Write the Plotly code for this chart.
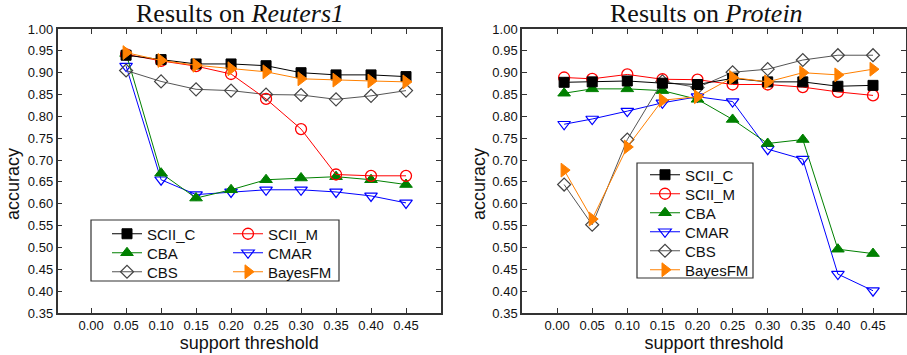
import plotly.graph_objects as go

# ---------------- data ----------------
x_reuters = [0.05, 0.10, 0.15, 0.20, 0.25, 0.30, 0.35, 0.40, 0.45]
x_protein = [0.01, 0.05, 0.10, 0.15, 0.20, 0.25, 0.30, 0.35, 0.40, 0.45]

reuters_scii_c = [0.940, 0.930, 0.920, 0.920, 0.916, 0.900, 0.895, 0.895, 0.891]
reuters_scii_m = [0.942, 0.927, 0.915, 0.897, 0.840, 0.771, 0.667, 0.664, 0.664]
reuters_cba = [0.944, 0.670, 0.613, 0.632, 0.655, 0.659, 0.662, 0.655, 0.644]
reuters_cmar = [0.915, 0.655, 0.621, 0.627, 0.632, 0.632, 0.627, 0.618, 0.602]
reuters_cbs = [0.905, 0.880, 0.862, 0.859, 0.850, 0.849, 0.839, 0.847, 0.859]
reuters_bayesfm = [0.946, 0.928, 0.917, 0.909, 0.902, 0.886, 0.883, 0.881, 0.879]

protein_scii_c = [0.878, 0.879, 0.881, 0.876, 0.873, 0.887, 0.879, 0.879, 0.869, 0.871]
protein_scii_m = [0.889, 0.886, 0.896, 0.885, 0.884, 0.873, 0.873, 0.867, 0.856, 0.848]
protein_cba = [0.853, 0.863, 0.863, 0.859, 0.839, 0.793, 0.738, 0.747, 0.496, 0.486]
protein_cmar = [0.782, 0.794, 0.812, 0.831, 0.845, 0.834, 0.725, 0.702, 0.439, 0.401]
protein_cbs = [0.644, 0.552, 0.747, 0.880, 0.866, 0.901, 0.908, 0.929, 0.940, 0.940]
protein_bayesfm = [0.677, 0.565, 0.730, 0.837, 0.845, 0.889, 0.879, 0.900, 0.895, 0.908]

x_tickvals = [0.00, 0.05, 0.10, 0.15, 0.20, 0.25, 0.30, 0.35, 0.40, 0.45]
x_ticktext = ["0.00", "0.05", "0.10", "0.15", "0.20", "0.25", "0.30", "0.35", "0.40", "0.45"]
y_tickvals = [0.35, 0.40, 0.45, 0.50, 0.55, 0.60, 0.65, 0.70, 0.75, 0.80, 0.85, 0.90, 0.95, 1.00]
y_ticktext = ["0.35", "0.40", "0.45", "0.50", "0.55", "0.60", "0.65", "0.70", "0.75", "0.80",
              "0.85", "0.90", "0.95", "1.00"]

series_names = ["SCII_C", "SCII_M", "CBA", "CMAR", "CBS", "BayesFM"]

# ---------------- styles ----------------
W, H = 907, 355
SANS = "Liberation Sans, Arial, sans-serif"
SERIF = "Liberation Serif, Times New Roman, serif"

styles = {
    "SCII_C": dict(line="#000000", marker=dict(symbol="square", size=10, color="#000000",
                                                line=dict(color="#000000", width=1))),
    "SCII_M": dict(line="#ff0000", marker=dict(symbol="circle-open", size=11, color="#ff0000",
                                                line=dict(color="#ff0000", width=1.3))),
    "CBA": dict(line="#008000", marker=dict(symbol="triangle-up", size=11, color="#008000",
                                             line=dict(color="#008000", width=1))),
    "CMAR": dict(line="#0000ff", marker=dict(symbol="triangle-down-open", size=11, color="#0000ff",
                                              line=dict(color="#0000ff", width=1.2))),
    "CBS": dict(line="#555555", marker=dict(symbol="diamond-open", size=10, color="#444444",
                                             line=dict(color="#444444", width=1.2))),
    "BayesFM": dict(line="#ff8000", marker=dict(symbol="triangle-right", size=12, color="#ff8000",
                                                 line=dict(color="#ff8000", width=1))),
}

reuters = {"SCII_C": reuters_scii_c, "SCII_M": reuters_scii_m, "CBA": reuters_cba,
           "CMAR": reuters_cmar, "CBS": reuters_cbs, "BayesFM": reuters_bayesfm}
protein = {"SCII_C": protein_scii_c, "SCII_M": protein_scii_m, "CBA": protein_cba,
           "CMAR": protein_cmar, "CBS": protein_cbs, "BayesFM": protein_bayesfm}


def px_x(p):
    return p / W


def px_y(p):
    return (H - p) / H


# legend entry positions (pixel: text left x, row centre y)
left_legend_pos = {"SCII_C": (147, 234), "SCII_M": (268, 234),
                   "CBA": (147, 253), "CMAR": (268, 253),
                   "CBS": (147, 272), "BayesFM": (268, 272)}
right_legend_pos = {"SCII_C": (685, 175), "SCII_M": (685, 194), "CBA": (685, 213),
                    "CMAR": (685, 232), "CBS": (685, 251), "BayesFM": (685, 270)}

legend_ids_left = {n: ("legend" if i == 0 else f"legend{i + 1}") for i, n in enumerate(series_names)}
legend_ids_right = {n: f"legend{i + 7}" for i, n in enumerate(series_names)}

fig = go.Figure()

# draw order so that orange/black markers sit on top like the reference
draw_order = ["CMAR", "CBA", "CBS", "SCII_M", "SCII_C", "BayesFM"]

for name in draw_order:
    st = styles[name]
    fig.add_trace(go.Scatter(
        x=x_reuters, y=reuters[name], name=name, mode="lines+markers",
        line=dict(color=st["line"], width=1), marker=st["marker"],
        xaxis="x", yaxis="y", legend=legend_ids_left[name], showlegend=True,
    ))
for name in draw_order:
    st = styles[name]
    fig.add_trace(go.Scatter(
        x=x_protein, y=protein[name], name=name, mode="lines+markers",
        line=dict(color=st["line"], width=1), marker=st["marker"],
        xaxis="x2", yaxis="y2", legend=legend_ids_right[name], showlegend=True,
    ))

axis_common = dict(
    showline=True, linecolor="#333333", linewidth=1.5, mirror="ticks",
    ticks="inside", ticklen=5, tickwidth=1.2, tickcolor="#333333",
    showgrid=False, zeroline=False,
    tickfont=dict(family=SANS, size=13, color="#111111"),
)

xtitle = dict(text="support threshold", standoff=2,
              font=dict(family=SANS, size=18, color="#111111"))

xdom1 = [px_x(57.5), px_x(441)]
xdom2 = [px_x(522), px_x(906)]
ydom = [px_y(313), px_y(29)]

legend_layouts = {}
for name in series_names:
    for ids, pos in ((legend_ids_left, left_legend_pos), (legend_ids_right, right_legend_pos)):
        lx, ly = pos[name]
        legend_layouts[ids[name]] = dict(
            x=px_x(lx - 40), y=px_y(ly), xanchor="left", yanchor="middle",
            bgcolor="rgba(0,0,0,0)", borderwidth=0, tracegroupgap=0,
            font=dict(family=SANS, size=15, color="#111111"))

fig.update_layout(
    width=W, height=H,
    margin=dict(l=0, r=0, t=0, b=0, autoexpand=False),
    paper_bgcolor="white", plot_bgcolor="white",
    xaxis=dict(domain=xdom1, range=[-0.048, 0.5], tickvals=x_tickvals, ticktext=x_ticktext,
               anchor="y", ticklabelstandoff=0, title=xtitle, automargin=False, **axis_common),
    yaxis=dict(domain=ydom, range=[0.35, 1.0], tickvals=y_tickvals, ticktext=y_ticktext,
               anchor="x", automargin=False, **axis_common),
    xaxis2=dict(domain=xdom2, range=[-0.05, 0.497], tickvals=x_tickvals, ticktext=x_ticktext,
                anchor="y2", ticklabelstandoff=0, title=xtitle, automargin=False, **axis_common),
    yaxis2=dict(domain=ydom, range=[0.35, 1.0], tickvals=y_tickvals, ticktext=y_ticktext,
                anchor="x2", automargin=False, **axis_common),
    shapes=[
        dict(type="rect", xref="paper", yref="paper",
             x0=px_x(91), x1=px_x(339), y0=px_y(281), y1=px_y(220),
             line=dict(color="#333333", width=1.2), fillcolor="white", layer="below"),
        dict(type="rect", xref="paper", yref="paper",
             x0=px_x(637), x1=px_x(753), y0=px_y(278), y1=px_y(163),
             line=dict(color="#333333", width=1.2), fillcolor="white", layer="below"),
    ],
    annotations=[
        dict(text="Results on <i>Reuters1</i>", x=px_x(240), y=px_y(14), xref="paper", yref="paper",
             xanchor="center", yanchor="middle", showarrow=False,
             font=dict(family=SERIF, size=26, color="#111111")),
        dict(text="Results on <i>Protein</i>", x=px_x(706), y=px_y(14), xref="paper", yref="paper",
             xanchor="center", yanchor="middle", showarrow=False,
             font=dict(family=SERIF, size=26, color="#111111")),
        dict(text="accuracy", x=px_x(13), y=px_y(184), xref="paper", yref="paper",
             xanchor="center", yanchor="middle", showarrow=False, textangle=-90,
             font=dict(family=SANS, size=18, color="#111111")),
        dict(text="accuracy", x=px_x(479), y=px_y(184), xref="paper", yref="paper",
             xanchor="center", yanchor="middle", showarrow=False, textangle=-90,
             font=dict(family=SANS, size=18, color="#111111")),
    ],
    **legend_layouts,
)

fig.write_html("out.html")
